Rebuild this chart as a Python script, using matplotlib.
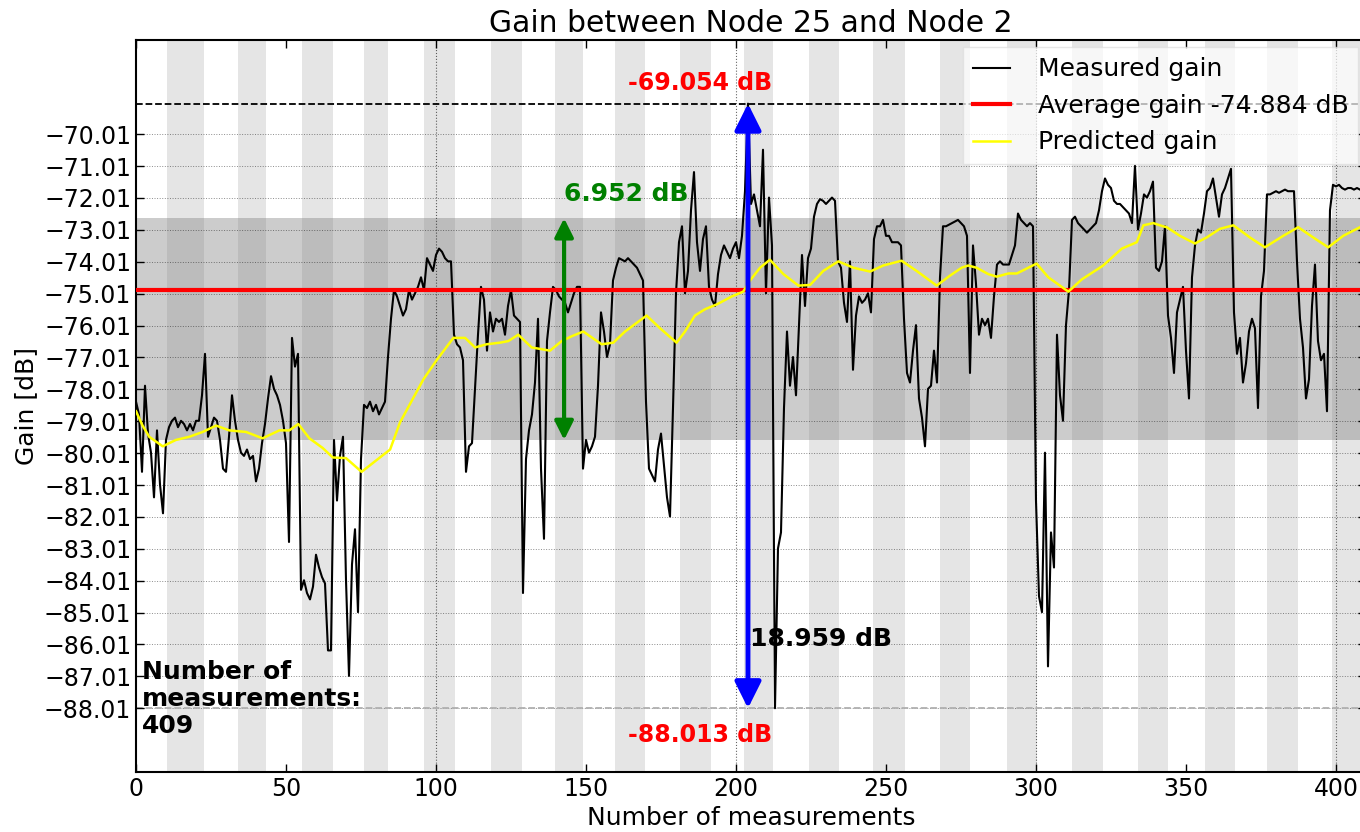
import numpy as np
import matplotlib
matplotlib.use("Agg")
import matplotlib.pyplot as plt
from matplotlib.ticker import FuncFormatter

# measured gain, one value per measurement (index 0..408)
measured_gain = [
    -78.4, -78.8, -80.6, -77.9, -79.4, -80.0, -81.4, -79.3, -81.0, -81.9,
    -79.6, -79.2, -79.0, -78.9, -79.2, -79.0, -79.1, -79.3, -79.1, -79.3,
    -79.0, -79.0, -78.2, -76.9, -79.5, -79.2, -78.9, -79.0, -79.6, -80.5,
    -80.6, -79.5, -78.2, -79.0, -79.6, -80.0, -80.1, -79.9, -80.2, -80.1,
    -80.9, -80.5, -79.7, -79.1, -78.3, -77.6, -78.0, -78.2, -78.5, -79.0,
    -79.7, -82.8, -76.4, -77.3, -76.9, -84.3, -84.0, -84.4, -84.6, -84.2,
    -83.2, -83.6, -83.9, -84.1, -86.2, -86.2, -79.6, -81.5, -80.1, -79.5,
    -84.0, -87.0, -83.5, -82.4, -85.0, -80.2, -78.5, -78.6, -78.4, -78.7,
    -78.5, -78.8, -78.6, -78.4, -77.0, -75.8, -74.9, -75.1, -75.4, -75.7,
    -75.5, -74.9, -75.2, -75.0, -74.8, -74.5, -74.9, -73.9, -74.1, -74.3,
    -73.8, -73.6, -73.7, -73.9, -74.0, -74.0, -76.3, -76.6, -76.7, -77.1,
    -80.6, -79.8, -79.7, -78.0, -76.3, -74.8, -75.2, -76.8, -75.6, -76.2,
    -75.8, -75.9, -75.8, -76.3, -75.4, -74.9, -75.7, -75.8, -75.9, -84.4,
    -80.2, -79.3, -78.8, -77.8, -75.8, -80.5, -82.7, -76.5, -75.6, -74.8,
    -74.9, -75.1, -75.2, -75.3, -75.6, -75.3, -75.0, -74.8, -74.8, -80.5,
    -79.6, -80.0, -79.8, -79.5, -77.9, -75.6, -76.2, -77.0, -76.6, -74.6,
    -74.2, -73.9, -73.95, -74.0, -73.9, -74.0, -74.1, -74.2, -74.4, -74.6,
    -78.4, -80.5, -80.7, -80.9, -79.9, -79.4, -80.4, -81.4, -82.0, -78.6,
    -75.0, -73.4, -72.9, -75.0, -74.3, -72.4, -71.2, -73.4, -74.3, -73.3,
    -72.9, -74.8, -75.2, -75.4, -74.4, -73.8, -73.5, -73.7, -73.9, -73.6,
    -73.4, -73.9, -73.2, -71.8, -69.054, -72.2, -71.9, -72.4, -72.9, -70.5,
    -75.0, -72.0, -73.5, -88.013, -83.0, -82.5, -78.6, -76.2, -77.9, -77.0,
    -78.2, -76.0, -73.8, -75.4, -73.9, -73.6, -72.6, -72.2, -72.05, -72.1,
    -72.2, -72.1, -72.0, -72.1, -74.0, -74.2, -75.3, -75.9, -74.0, -77.4,
    -75.7, -75.1, -75.3, -75.2, -75.0, -75.6, -73.3, -72.9, -72.9, -72.7,
    -73.2, -73.2, -73.4, -73.4, -73.4, -73.5, -75.8, -77.5, -77.8, -76.8,
    -76.0, -78.3, -78.9, -79.8, -78.0, -77.9, -76.8, -77.8, -74.5, -72.9,
    -72.9, -72.85, -72.8, -72.75, -72.7, -72.8, -72.9, -73.2, -77.5, -73.5,
    -74.7, -76.3, -75.8, -76.0, -75.8, -76.4, -75.1, -74.1, -74.0, -74.1,
    -74.1, -74.1, -73.8, -73.5, -72.5, -72.7, -72.8, -72.9, -72.8, -72.9,
    -81.5, -84.5, -85.0, -80.0, -86.7, -82.5, -83.6, -76.3, -78.2, -79.0,
    -76.0, -74.9, -72.7, -72.6, -72.8, -72.9, -73.0, -73.1, -73.0, -72.9,
    -72.8, -72.4, -71.8, -71.4, -71.6, -71.7, -72.1, -72.2, -72.2, -72.3,
    -72.4, -72.5, -72.8, -71.0, -73.0, -72.5, -71.9, -72.0, -71.8, -71.5,
    -74.2, -74.3, -74.0, -72.9, -75.7, -76.4, -77.5, -75.6, -75.2, -74.8,
    -76.8, -78.3, -74.5, -73.5, -73.0, -73.1, -72.5, -71.8, -71.7, -71.4,
    -72.0, -72.6, -71.9, -71.7, -71.4, -71.1, -75.6, -76.9, -76.4, -77.8,
    -77.2, -76.2, -75.8, -76.1, -78.6, -75.1, -74.3, -71.9, -71.9, -71.85,
    -71.8, -71.85, -71.8, -71.75, -71.8, -71.8, -71.8, -74.0, -75.8, -76.7,
    -78.3, -77.7, -75.4, -74.1, -76.5, -77.1, -76.9, -78.7, -72.4, -71.6,
    -71.65, -71.6, -71.7, -71.75, -71.7, -71.7, -71.75, -71.7, -71.75,
]

# predicted gain (break points of the yellow curve)
pred_x = [0, 2.2, 4.4, 8.9, 13.3, 17.8, 22.2, 26.7, 31.1, 36.7, 42.2, 44.4,
          47.8, 51.1, 54.1, 57.8, 62.2, 65.6, 70, 75.2, 84.7, 88, 95.8, 100.2,
          105.8, 109.7, 113, 116.9, 121.3, 124.1, 127.4, 131.9, 138, 141.9,
          145.2, 149.1, 155.2, 159.1, 163, 170.2, 174.7, 180.2, 183, 186.3,
          189.7, 193.6, 198.6, 202.4, 204.7, 208, 211.3, 215.8, 220.8, 224.7,
          229.1, 234.1, 239.1, 244.7, 249.1, 255.2, 260.2, 266.9, 271.3,
          275.2, 277.4, 280.2, 284.1, 286.9, 290.8, 293.6, 300.2, 304.1,
          310.8, 315.2, 322.4, 328.6, 333.6, 335.8, 339.1, 342.3, 343.6, 348,
          353, 356.9, 361.3, 365.8, 371.3, 376.3, 382.4, 387.4, 392.4, 397.4,
          402.4, 408]
pred_y = [-78.7, -79.15, -79.5, -79.8, -79.6, -79.5, -79.35, -79.15, -79.3,
          -79.35, -79.55, -79.45, -79.3, -79.3, -79.1, -79.55, -79.85, -80.15,
          -80.17, -80.6, -79.9, -79.05, -77.7, -77.1, -76.4, -76.4, -76.7,
          -76.6, -76.55, -76.5, -76.3, -76.7, -76.8, -76.5, -76.35, -76.2,
          -76.6, -76.55, -76.2, -75.7, -76.1, -76.55, -76.2, -75.7, -75.5,
          -75.35, -75.1, -74.95, -74.6, -74.2, -73.95, -74.4, -74.76, -74.74,
          -74.3, -74.0, -74.2, -74.32, -74.13, -73.98, -74.3, -74.76, -74.45,
          -74.2, -74.13, -74.2, -74.4, -74.48, -74.38, -74.38, -74.07, -74.5,
          -74.95, -74.57, -74.13, -73.6, -73.4, -72.87, -72.8, -72.9, -72.93,
          -73.2, -73.44, -73.25, -72.98, -72.87, -73.25, -73.56, -73.2, -72.93,
          -73.25, -73.56, -73.2, -72.93]

# shaded measurement periods
band_starts = [10.2, 33.9, 55.3, 76, 96, 118.3, 139.7, 159.7, 181.3, 202.8,
               224.4, 245.8, 268, 290.2, 311.9, 333.9, 356.3, 376.9, 398.6]
band_ends = [22.8, 43.3, 65.8, 84.1, 106.3, 128.6, 149.1, 169.7, 191.6, 212.2,
             234.4, 256.3, 278, 300.2, 322.4, 344.1, 366.3, 387.4, 408]

max_gain = -69.054
min_gain = -88.013
avg_gain = -74.884
spread_lo = -79.6
spread = 6.952
max_idx = 204
spread_x = 142.7
n_meas = len(measured_gain)

fig = plt.figure(figsize=(13.6, 8.32), dpi=100)
ax = fig.add_axes([0.1, 0.0721, 0.9044, 0.880])

for s, e in zip(band_starts, band_ends):
    ax.axvspan(s, e, color="grey", alpha=0.2, lw=0, zorder=0)
ax.axhspan(spread_lo, spread_lo + spread, color="grey", alpha=0.4, lw=0, zorder=0)

# grid
yt = np.arange(min_gain, max_gain, 1.0)
for y in yt:
    ax.axhline(y, color="black", ls=":", lw=0.7, alpha=0.45, zorder=1)
for x in [100, 200, 300, 400]:
    ax.axvline(x, color="black", ls=":", lw=0.8, alpha=0.6, zorder=1)

ax.axhline(max_gain, color="black", ls="--", lw=1.3, zorder=1.5)
ax.axhline(min_gain, color="#b0b0b0", ls="--", lw=1.3, zorder=1.5)

ax.plot(np.arange(n_meas), measured_gain, color="black", lw=1.5, zorder=2,
        label="Measured gain")
ax.axhline(avg_gain, color="red", lw=3, zorder=3,
           label="Average gain %.3f dB" % avg_gain)
ax.plot(pred_x, pred_y, color="yellow", lw=1.8, zorder=4, label="Predicted gain")

# max-min arrow
ax.annotate("", xy=(max_idx, max_gain), xytext=(max_idx, min_gain),
            arrowprops=dict(arrowstyle="<|-|>", color="blue", lw=3.5,
                            mutation_scale=40, shrinkA=0, shrinkB=0), zorder=5)
ax.text(max_idx + 0.8, -85.85, "%.3f dB" % (max_gain - min_gain), fontsize=18,
        fontweight="bold", color="black", va="center", zorder=6)
ax.text(164, -68.4, "%.3f dB" % max_gain, fontsize=17, fontweight="bold",
        color="red", va="center", zorder=6)
ax.text(164, -88.85, "%.3f dB" % min_gain, fontsize=17, fontweight="bold",
        color="red", va="center", zorder=6)

# spread arrow
ax.annotate("", xy=(spread_x, spread_lo + spread), xytext=(spread_x, spread_lo),
            arrowprops=dict(arrowstyle="<|-|>", color="green", lw=3,
                            mutation_scale=28, shrinkA=0, shrinkB=0), zorder=5)
ax.text(spread_x, -71.9, "%.3f dB" % spread, fontsize=18, fontweight="bold",
        color="green", va="center", zorder=6)

ax.text(2, -86.5, "Number of\nmeasurements:\n%d" % n_meas, fontsize=18,
        fontweight="bold", va="top", linespacing=1.15, zorder=6)

ax.set_xlim(0, 410)
ax.set_ylim(min_gain - 2, max_gain + 2)
ax.set_yticks(yt)
ax.yaxis.set_major_formatter(FuncFormatter(lambda v, p: ("%.2f" % v).replace("-", "\u2212")))
ax.set_xticks(np.arange(0, 401, 50))
ax.tick_params(direction="in", top=True, right=True, labelsize=17, length=6, width=1)
for sp in ax.spines.values():
    sp.set_linewidth(1.5)

ax.set_title("Gain between Node 25 and Node 2", fontsize=21.5, pad=6)
ax.set_xlabel("Number of measurements", fontsize=18, labelpad=4)
ax.set_ylabel("Gain [dB]", fontsize=18, labelpad=4)

leg = ax.legend(loc="upper right", fontsize=18, framealpha=0.7, handlelength=1.5,
                handletextpad=1.1, borderaxespad=0.3, fancybox=False)
leg.get_frame().set_edgecolor("#dddddd")
leg.set_zorder(7)

fig.savefig("out.png", dpi=100)
